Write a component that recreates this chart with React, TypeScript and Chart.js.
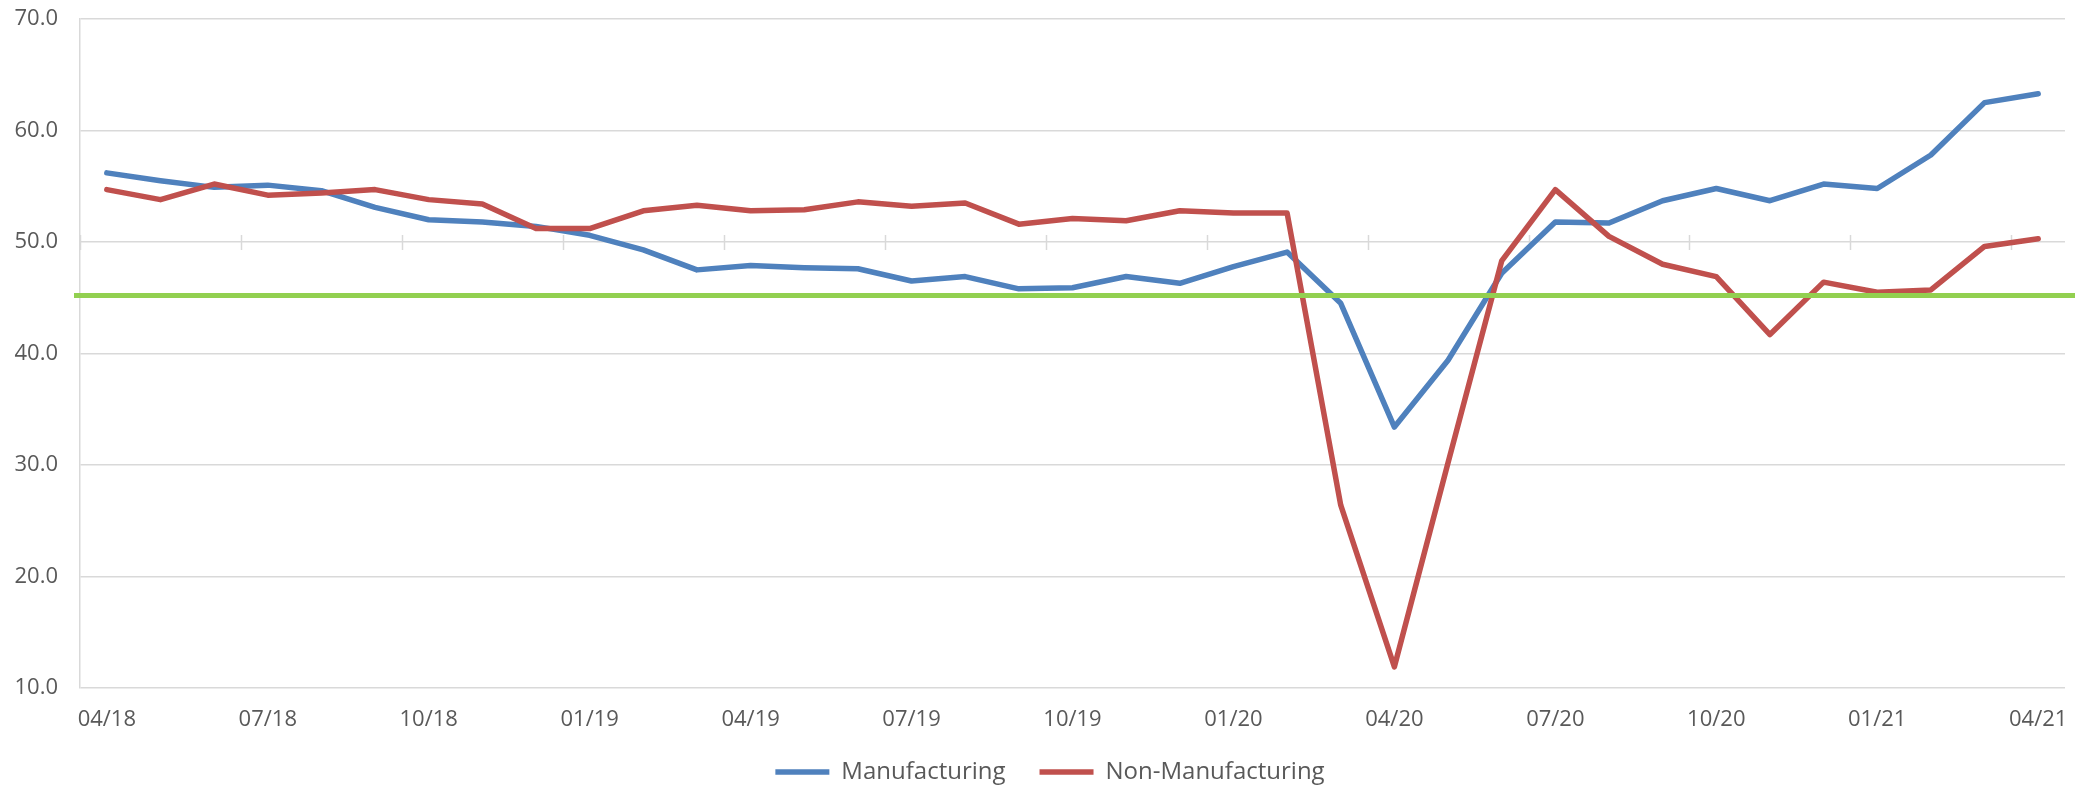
import React, { useEffect, useRef } from "react";
import { Chart, registerables } from "chart.js";

Chart.register(...registerables);

const months = [
  "04/18", "05/18", "06/18", "07/18", "08/18", "09/18", "10/18", "11/18", "12/18",
  "01/19", "02/19", "03/19", "04/19", "05/19", "06/19", "07/19", "08/19", "09/19",
  "10/19", "11/19", "12/19", "01/20", "02/20", "03/20", "04/20", "05/20", "06/20",
  "07/20", "08/20", "09/20", "10/20", "11/20", "12/20", "01/21", "02/21", "03/21", "04/21",
];

const manufacturing = [
  56.2, 55.5, 54.9, 55.1, 54.6, 53.1, 52.0, 51.8, 51.4, 50.6, 49.3, 47.5,
  47.9, 47.7, 47.6, 46.5, 46.9, 45.8, 45.9, 46.9, 46.3, 47.8, 49.1, 44.5,
  33.4, 39.4, 47.2, 51.8, 51.7, 53.7, 54.8, 53.7, 55.2, 54.8, 57.8, 62.5, 63.3,
];

const nonManufacturing = [
  54.7, 53.8, 55.2, 54.2, 54.4, 54.7, 53.8, 53.4, 51.2, 51.2, 52.8, 53.3,
  52.8, 52.9, 53.6, 53.2, 53.5, 51.6, 52.1, 51.9, 52.8, 52.6, 52.6, 26.4,
  11.9, 30.2, 48.3, 54.7, 50.5, 48.0, 46.9, 41.7, 46.4, 45.5, 45.7, 49.6, 50.3,
];

const threshold = 45.2;
const yMin = 10;
const yMax = 70;
const yStep = 10;
const axisCrossValue = 50;
const labelEvery = 3;

const FONT = "'Open Sans', 'Liberation Sans', sans-serif";
const TEXT = "#595959";
const GRID = "#d9d9d9";

const crossTicksPlugin = {
  id: "crossTicks",
  beforeDatasetsDraw(chart: any) {
    const { ctx, scales } = chart;
    const x = scales.x;
    const y = scales.y;
    const yc = y.getPixelForValue(axisCrossValue);
    ctx.save();
    ctx.strokeStyle = GRID;
    ctx.lineWidth = 1.5;
    for (let k = 0; k < months.length; k += labelEvery) {
      const px = Math.round(x.getPixelForValue(k - 0.5)) + 0.5;
      ctx.beginPath();
      ctx.moveTo(px, yc - 7);
      ctx.lineTo(px, yc + 8);
      ctx.stroke();
    }
    ctx.restore();
  },
};

const thresholdPlugin = {
  id: "thresholdLine",
  afterDatasetsDraw(chart: any) {
    const { ctx, scales, chartArea } = chart;
    const py = scales.y.getPixelForValue(threshold);
    ctx.save();
    ctx.strokeStyle = "#92D050";
    ctx.lineWidth = 5;
    ctx.beginPath();
    ctx.moveTo(chartArea.left - 6, py);
    ctx.lineTo(chartArea.right + 10, py);
    ctx.stroke();
    ctx.restore();
  },
};

// centre the legend on the whole canvas rather than on the padded box
const legendShiftPlugin = {
  id: "legendShift",
  afterLayout(chart: any) {
    const lg = chart.legend;
    if (!lg) return;
    const shift = (chart.width - (lg.left + lg.right)) / 2 + 5;
    lg.left += shift;
    lg.right += shift;
  },
};

export default function App() {
  const canvasRef = useRef<HTMLCanvasElement | null>(null);

  useEffect(() => {
    const canvas = canvasRef.current;
    if (!canvas) return;
    const chart = new Chart(canvas, {
      type: "line",
      data: {
        labels: months,
        datasets: [
          {
            label: "Manufacturing",
            data: manufacturing,
            borderColor: "#4F81BD",
            backgroundColor: "#4F81BD",
            borderWidth: 5.5,
            pointRadius: 0,
            pointHoverRadius: 0,
            tension: 0,
            borderCapStyle: "round",
            borderJoinStyle: "round",
            order: 1,
          },
          {
            label: "Non-Manufacturing",
            data: nonManufacturing,
            borderColor: "#C0504D",
            backgroundColor: "#C0504D",
            borderWidth: 5.5,
            pointRadius: 0,
            pointHoverRadius: 0,
            tension: 0,
            borderCapStyle: "round",
            borderJoinStyle: "round",
            order: 0,
          },
        ],
      },
      options: {
        animation: false,
        responsive: true,
        maintainAspectRatio: false,
        events: [],
        layout: { padding: { top: 19, right: 25, bottom: -3, left: 0 } },
        plugins: {
          tooltip: { enabled: false },
          legend: {
            display: true,
            position: "bottom",
            labels: {
              usePointStyle: true,
              pointStyle: "line",
              pointStyleWidth: 54,
              padding: 34,
              color: TEXT,
              font: { family: FONT, size: 24 },
              sort: (a: any, b: any) => a.datasetIndex - b.datasetIndex,
            },
          },
        },
        scales: {
          x: {
            type: "category",
            offset: true,
            grid: { display: false, drawTicks: false },
            border: { display: false },
            ticks: {
              autoSkip: false,
              maxRotation: 0,
              minRotation: 0,
              padding: 19,
              color: TEXT,
              font: { family: FONT, size: 22 },
              callback: (_v: any, i: number) => (i % labelEvery === 0 ? months[i] : ""),
            },
            afterFit: (s: any) => {
              s.height = 38;
              s.paddingLeft = 0;
              s.paddingRight = 0;
            },
          },
          y: {
            min: yMin,
            max: yMax,
            grid: { color: GRID, lineWidth: 1.5, drawTicks: false },
            border: { display: true, color: GRID, width: 1.5 },
            ticks: {
              stepSize: yStep,
              padding: 22,
              color: TEXT,
              font: { family: FONT, size: 22 },
              callback: (v: any) => Number(v).toFixed(1),
            },
            afterFit: (s: any) => {
              s.width = 80;
              s.paddingTop = 0;
              s.paddingBottom = 0;
            },
          },
        },
      },
      plugins: [crossTicksPlugin, thresholdPlugin, legendShiftPlugin],
    });
    return () => chart.destroy();
  }, []);

  return (
    <div
      style={{
        position: "fixed",
        left: 0,
        top: 0,
        width: 2090,
        height: 791,
        background: "#ffffff",
      }}
    >
      <canvas ref={canvasRef} />
    </div>
  );
}
